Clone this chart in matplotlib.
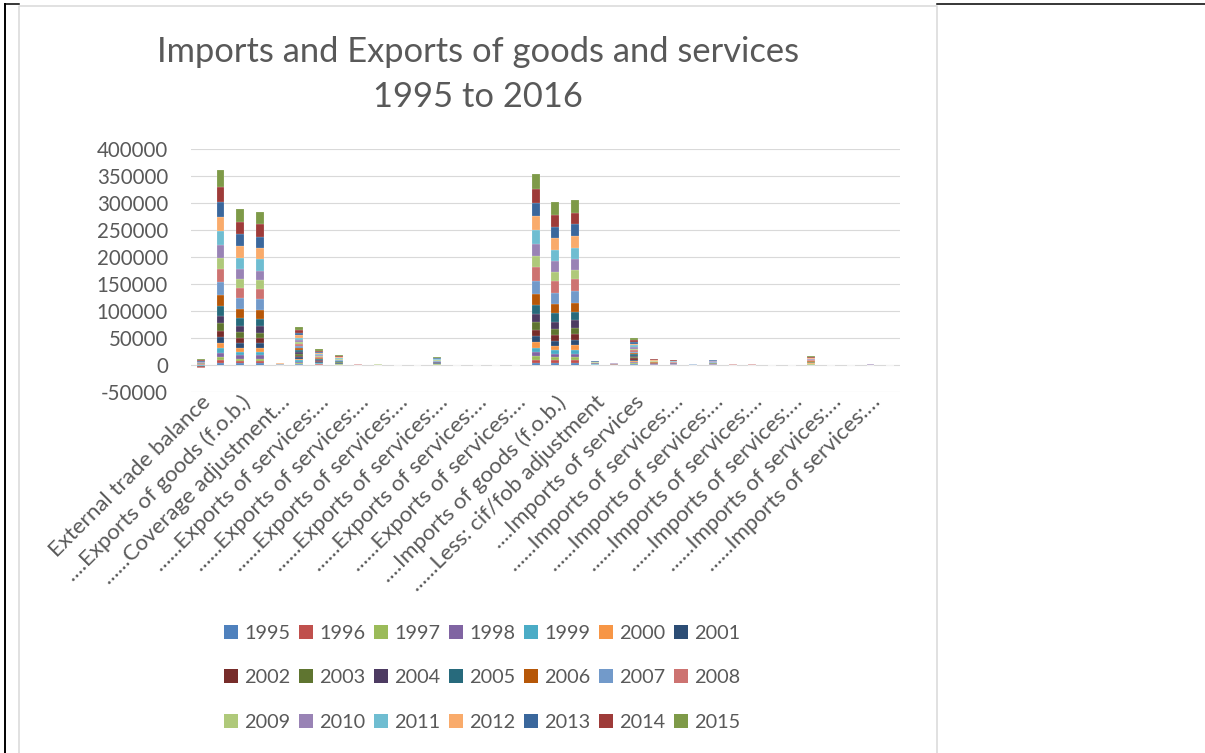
import numpy as np
import matplotlib
matplotlib.use('Agg')
import matplotlib.pyplot as plt
from matplotlib.patches import Rectangle
from matplotlib.lines import Line2D

plt.rcParams['font.family'] = ['Lato', 'DejaVu Sans']
plt.rcParams['axes.unicode_minus'] = False

years = [str(y) for y in range(1995, 2016)]

colors = ['#4F81BD', '#C0504D', '#9BBB59', '#8064A2', '#4BACC6', '#F79646',
          '#2C4D75', '#772C2A', '#5F7530', '#4D3B62', '#276A7C', '#B65708',
          '#729ACA', '#CD7371', '#AFC97A', '#9983B5', '#6FBDD1', '#F9AB6B',
          '#3A679C', '#9E3B39', '#7E9A48']

# series rows as exported (labels truncated the same way the axis shows them)
categories = [
    'External trade balance',
    'Exports of goods and services',
    '....Exports of goods (f.o.b.)',
    '......Exports of goods (unadjusted)',
    '......Coverage adjustment\u2026',
    '....Exports of services',
    '......Exports of services:\u2026',
    '......Exports of services:\u2026',
    '......Exports of services:\u2026',
    '......Exports of services:\u2026',
    '......Exports of services:\u2026',
    '......Exports of services:\u2026',
    '......Exports of services:\u2026',
    '......Exports of services:\u2026',
    '......Exports of services:\u2026',
    '......Exports of services:\u2026',
    '......Exports of services:\u2026',
    'Imports of goods and services',
    '....Imports of goods (f.o.b.)',
    '......Imports of goods (unadjusted)',
    '......Less: cif/fob adjustment',
    '......Imports of goods:\u2026',
    '....Imports of services',
    '......Imports of services:\u2026',
    '......Imports of services:\u2026',
    '......Imports of services:\u2026',
    '......Imports of services:\u2026',
    '......Imports of services:\u2026',
    '......Imports of services:\u2026',
    '......Imports of services:\u2026',
    '......Imports of services:\u2026',
    '......Imports of services:\u2026',
    '......Imports of services:\u2026',
    '......Imports of services:\u2026',
    '......Imports of services:\u2026',
    '......Imports of services:\u2026',
]

# values per row, 1995..2015 (EUR million); rows left out are empty
trade_balance = [900, 700, 600, -600, -900, 400, -800, -1100, 300, 400, 500,
                 300, -700, -1200, 400, 500, -500, 600, 1600, 2000, 2200]
exports_total = [3700, 4900, 6800, 7400, 8000, 9300, 11100, 12400, 13600, 14200, 17900,
                 20400, 23500, 25300, 20400, 23500, 26600, 26000, 27200, 28400, 30900]
exports_goods = [3100, 3700, 4900, 6200, 6200, 7400, 9300, 8700, 11100, 12400, 13600,
                 16700, 20400, 19200, 17300, 17900, 20400, 21600, 22200, 22200, 24700]
exports_goods_unadj = [3100, 3700, 4900, 6200, 6200, 7400, 8700, 9300, 10500, 11700, 14200,
                       16100, 19800, 19800, 16100, 17300, 21600, 20400, 21000, 22900, 23500]
coverage_adj = [120, 130, 140, 150, 150, 160, 160, 170, 170, 180, 180,
                170, 160, 150, 160, 170, 180, 190, 200, 210, 220]
exports_services = [1300, 1500, 1700, 2000, 2300, 2600, 2900, 3100, 3200, 3300, 3400,
                    3500, 3700, 4000, 3900, 4000, 4100, 4300, 4700, 5100, 5700]
exp_serv_a = [500, 600, 700, 800, 900, 1000, 1100, 1200, 1200, 1300, 1400,
              1500, 1600, 1700, 1600, 1700, 1800, 1900, 2000, 2200, 2400]
exp_serv_b = [300, 400, 450, 500, 550, 600, 700, 750, 750, 850, 900,
              950, 1000, 1100, 1000, 1100, 1150, 1200, 1300, 1400, 1550]
exp_serv_c = [50, 55, 60, 60, 65, 70, 70, 75, 75, 80, 80,
              80, 85, 85, 80, 85, 90, 90, 95, 100, 105]
exp_serv_d = [45, 50, 55, 60, 60, 65, 70, 70, 75, 75, 80,
              80, 80, 85, 80, 80, 85, 90, 90, 95, 100]
exp_serv_g = [320, 350, 390, 430, 470, 510, 550, 600, 630, 660, 700,
              730, 770, 820, 780, 800, 850, 890, 940, 1000, 1060]
imports_total = [4300, 5600, 6200, 7400, 8700, 9900, 11100, 12400, 13600, 14800, 17300,
                 21000, 24100, 25300, 21000, 22200, 25300, 25300, 25300, 25300, 27200]
imports_goods = [3700, 4900, 5600, 6200, 7400, 8000, 9300, 10500, 11100, 13600, 15500,
                 17900, 20400, 21600, 17300, 19200, 21600, 21600, 21000, 22200, 23500]
imports_goods_unadj = [3700, 4900, 5600, 6200, 8000, 8700, 9300, 10500, 11700, 14200, 15500,
                       17300, 21000, 22200, 17300, 19800, 21600, 21600, 21600, 21600, 23500]
cif_fob_adj = [200, 220, 240, 260, 280, 300, 320, 340, 360, 380, 400,
               420, 440, 460, 450, 470, 490, 510, 540, 570, 600]
imp_goods_other = [110, 120, 130, 140, 150, 160, 170, 180, 190, 200, 210,
                   220, 230, 240, 230, 240, 250, 260, 270, 280, 300]
imports_services = [1000, 1100, 1250, 1400, 1600, 1800, 2000, 2200, 2300, 2400, 2500,
                    2600, 2750, 2900, 2800, 2850, 2950, 3100, 3350, 3650, 4000]
imp_serv_a = [280, 300, 330, 360, 390, 420, 450, 480, 500, 530, 550,
              580, 610, 640, 620, 640, 670, 700, 740, 790, 840]
imp_serv_b = [220, 240, 260, 290, 310, 340, 360, 390, 410, 430, 450,
              470, 500, 520, 500, 520, 550, 570, 600, 640, 680]
imp_serv_c = [50, 55, 60, 65, 70, 75, 80, 85, 90, 95, 100,
              105, 110, 115, 110, 115, 120, 125, 130, 140, 150]
imp_serv_d = [240, 260, 280, 310, 330, 360, 390, 420, 440, 460, 480,
              510, 540, 560, 540, 560, 590, 620, 650, 690, 730]
imp_serv_e = [45, 50, 55, 60, 60, 65, 70, 75, 80, 85, 90,
              95, 95, 100, 95, 100, 105, 110, 115, 120, 130]
imp_serv_f = [40, 45, 50, 55, 60, 65, 70, 75, 80, 80, 85,
              90, 95, 100, 95, 100, 105, 110, 115, 120, 125]
imp_serv_i = [380, 420, 460, 500, 550, 600, 640, 680, 720, 760, 790,
              830, 870, 910, 880, 910, 950, 990, 1040, 1100, 1170]
imp_serv_l = [40, 45, 50, 55, 55, 60, 65, 70, 70, 75, 75,
              80, 80, 85, 80, 85, 90, 90, 95, 100, 105]

rows = {0: trade_balance, 1: exports_total, 2: exports_goods, 3: exports_goods_unadj,
        4: coverage_adj, 5: exports_services, 6: exp_serv_a, 7: exp_serv_b,
        8: exp_serv_c, 9: exp_serv_d, 12: exp_serv_g, 17: imports_total,
        18: imports_goods, 19: imports_goods_unadj, 20: cif_fob_adj, 21: imp_goods_other,
        22: imports_services, 23: imp_serv_a, 24: imp_serv_b, 25: imp_serv_c,
        26: imp_serv_d, 27: imp_serv_e, 28: imp_serv_f, 31: imp_serv_i, 34: imp_serv_l}

data = np.zeros((len(years), len(categories)))
for idx, vals in rows.items():
    data[:, idx] = vals

W, H = 1205, 753
grey_txt = '#595959'

def fx(px):
    return px / W

def fy(py):
    return 1 - py / H

fig = plt.figure(figsize=(W / 100, H / 100), dpi=100)

# page / chart frame
fig.add_artist(Line2D([fx(5), fx(19)], [fy(4), fy(4)], color='black', lw=1.1))
fig.add_artist(Line2D([fx(937), fx(W)], [fy(4), fy(4)], color='black', lw=1.1))
fig.add_artist(Line2D([fx(5), fx(5)], [fy(4), 0], color='black', lw=1.4))
fig.add_artist(Line2D([fx(19), fx(19), fx(937), fx(937)], [0, fy(5.5), fy(5.5), 0],
                      color='#D9D9D9', lw=1.1))

ax = fig.add_axes([fx(191), fy(392), fx(900) - fx(191), fy(149.3) - fy(392)])

x = np.arange(len(categories))
pos_base = np.zeros(len(categories))
neg_base = np.zeros(len(categories))
for i, yr in enumerate(years):
    v = data[i]
    bottom = np.where(v >= 0, pos_base, neg_base)
    ax.bar(x, v, width=0.4, bottom=bottom, color=colors[i],
           edgecolor='white', linewidth=0.12, label=yr)
    pos_base = pos_base + np.where(v > 0, v, 0)
    neg_base = neg_base + np.where(v < 0, v, 0)

ax.set_xlim(-0.5, len(categories) - 0.5)
ax.set_ylim(-50000, 400000)
ax.set_yticks(np.arange(-50000, 400001, 50000))
ax.yaxis.grid(True, color='#D9D9D9', linewidth=0.8)
ax.set_axisbelow(True)
for s in ax.spines.values():
    s.set_visible(False)
ax.tick_params(axis='both', length=0, labelcolor=grey_txt)
ax.tick_params(axis='y', pad=16.5, labelsize=14.8)
ax.tick_params(axis='x', pad=0, labelsize=16)
ax.set_xticks(x[::2])
ax.set_xticklabels(categories[::2], rotation=45, ha='right', rotation_mode='anchor')

# title
fig.text(fx(478), fy(62), 'Imports and Exports of goods and services', ha='center',
         va='baseline', fontsize=24.8, color=grey_txt)
fig.text(fx(478), fy(107), '1995 to 2016', ha='center', va='baseline',
         fontsize=24.8, color=grey_txt)

# legend, 7 per row
for i, yr in enumerate(years):
    r, c = divmod(i, 7)
    x0 = 224 + 75 * c
    yc = 632 + 44.3 * r
    fig.add_artist(Rectangle((fx(x0), fy(yc + 7)), fx(14), 14 / H,
                             transform=fig.transFigure, color=colors[i], lw=0))
    fig.text(fx(x0 + 20), fy(yc), yr, ha='left', va='center_baseline',
             fontsize=14.3, color=grey_txt)

fig.savefig('out.png', dpi=100)
